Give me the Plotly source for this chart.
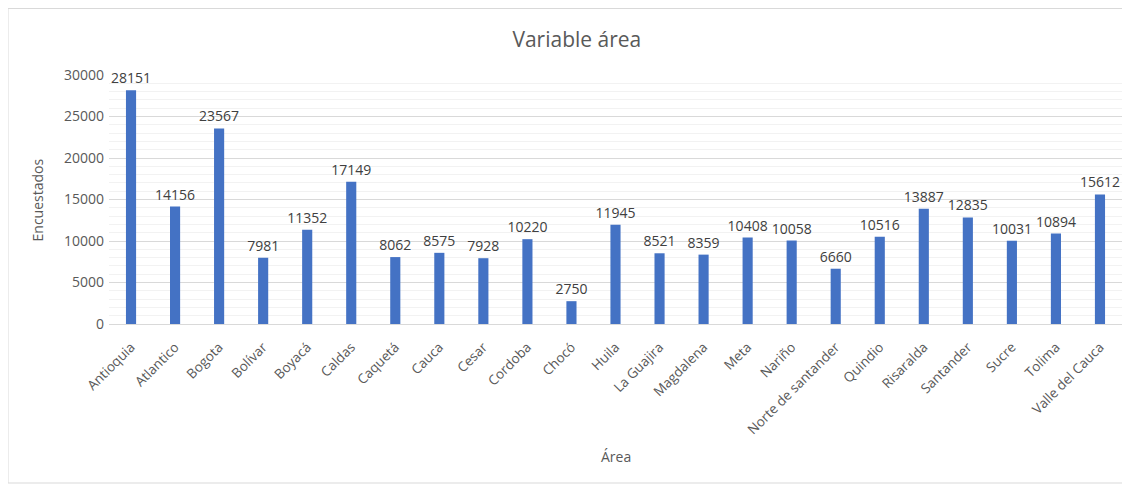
import plotly.graph_objects as go

categories = ["Antioquia", "Atlantico", "Bogota", "Bolívar", "Boyacá", "Caldas", "Caquetá",
              "Cauca", "Cesar", "Cordoba", "Chocó", "Huila", "La Guajira", "Magdalena", "Meta",
              "Nariño", "Norte de santander", "Quindio", "Risaralda", "Santander", "Sucre",
              "Tolima", "Valle del Cauca"]
values = [28151, 14156, 23567, 7981, 11352, 17149, 8062, 8575, 7928, 10220, 2750, 11945,
          8521, 8359, 10408, 10058, 6660, 10516, 13887, 12835, 10031, 10894, 15612]
y_ticks = [0, 5000, 10000, 15000, 20000, 25000, 30000]

FONT = "Open Sans"
GRAY = "#595959"

fig = go.Figure(go.Bar(
    x=categories, y=values,
    marker=dict(color="#4472C4", line=dict(width=0)),
    text=[str(v) for v in values], textposition="outside",
    textfont=dict(family=FONT, size=14, color="#404040"),
    constraintext="none",
    cliponaxis=False,
))

fig.update_layout(
    width=1122, height=477,
    margin=dict(l=101, r=8, t=67, b=161),
    paper_bgcolor="white", plot_bgcolor="white",
    bargap=0.77,
    showlegend=False,
    title=dict(text="Variable área", x=0.507, xanchor="center", y=0.933, yanchor="middle",
               font=dict(family=FONT, size=21, color=GRAY)),
    xaxis=dict(
        tickangle=-45, tickfont=dict(family=FONT, size=13.5, color=GRAY),
        showgrid=False, showline=True, linecolor="#d9d9d9", linewidth=1,
        ticks="", ticklabelstandoff=9, automargin=False,
    ),
    yaxis=dict(
        range=[0, 30000], tickvals=y_ticks, ticktext=[str(v) for v in y_ticks],
        tickfont=dict(family=FONT, size=14, color=GRAY),
        showgrid=True, gridcolor="#d9d9d9", gridwidth=1,
        minor=dict(dtick=1000, showgrid=True, gridcolor="#f2f2f2", gridwidth=1),
        zeroline=False, ticks="", ticklabelstandoff=4,
        automargin=False,
    ),
    annotations=[
        dict(text="Área", xref="paper", yref="paper", x=0.5, y=-0.534,
             xanchor="center", yanchor="middle", showarrow=False,
             font=dict(family=FONT, size=14, color=GRAY)),
        dict(text="Encuestados", xref="paper", yref="paper", x=-0.0701, y=0.5,
             xanchor="center", yanchor="middle", textangle=-90, showarrow=False,
             font=dict(family=FONT, size=14, color=GRAY)),
    ],
    shapes=[dict(type="rect", xref="paper", yref="paper",
                 x0=-0.0997, x1=1.02, y0=-0.6386, y1=1.267,
                 line=dict(color="#d9d9d9", width=1), fillcolor="rgba(0,0,0,0)", layer="below")],
)

fig.write_html("out.html")
